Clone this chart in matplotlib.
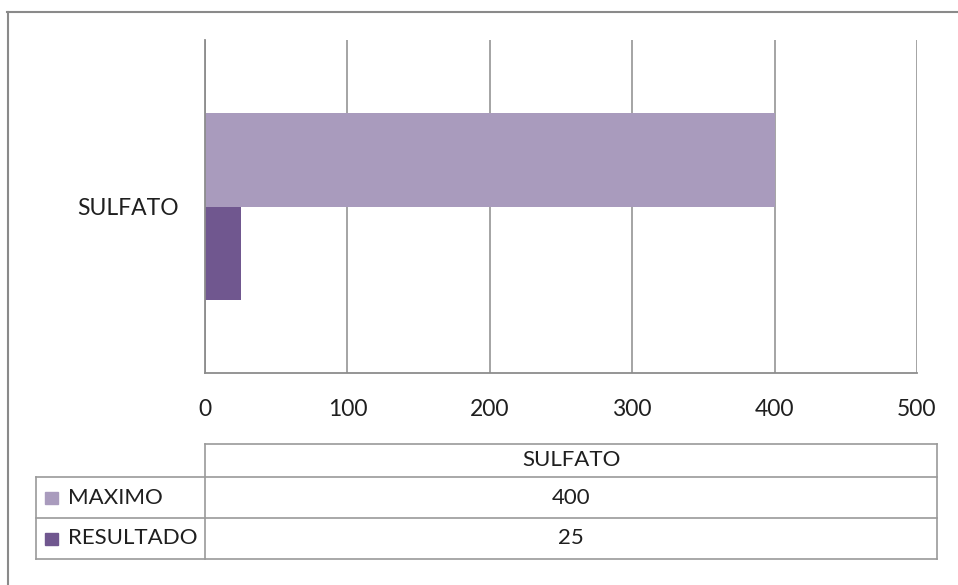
import matplotlib.pyplot as plt
import numpy as np
from matplotlib.lines import Line2D
from matplotlib.patches import Rectangle

categories = ['SULFATO']
series_names = ['MAXIMO', 'RESULTADO']
maximo = [400]
resultado = [25]
x_ticks = [0, 100, 200, 300, 400, 500]

colors = ['#A99BBD', '#70578F']
grid_color = '#8C8C8C'
text_color = '#1F1F1F'

W, H = 958, 585
plt.rcParams['font.family'] = ['Lato', 'DejaVu Sans']

fig = plt.figure(figsize=(W / 100, H / 100), dpi=100)


def fx(px):
    return px / W


def fy(py):
    return 1 - py / H


def hline(x0, x1, y, color='#9A9A9A', lw=1.2):
    fig.add_artist(Line2D([fx(x0), fx(x1)], [fy(y), fy(y)], color=color, lw=lw))


def vline(x, y0, y1, color='#9A9A9A', lw=1.2):
    fig.add_artist(Line2D([fx(x), fx(x)], [fy(y0), fy(y1)], color=color, lw=lw))


# chart frame (runs off the right and bottom edges)
hline(7, W, 12, color='#8A8A8A', lw=1.5)
vline(7.5, 12, H, color='#8A8A8A', lw=1.5)

ax = fig.add_axes([fx(205), fy(373), fx(917) - fx(205), fy(40) - fy(373)])

y = np.arange(len(categories))
h = 0.28
ax.barh(y + h / 2, maximo, height=h, color=colors[0], zorder=3)
ax.barh(y - h / 2, resultado, height=h, color=colors[1], zorder=3)

ax.set_xlim(0, 500)
ax.set_ylim(-0.5, 0.5)
ax.set_xticks(x_ticks)
ax.set_xticklabels([str(t) for t in x_ticks], fontsize=16.5, color=text_color)
ax.set_yticks(y)
ax.set_yticklabels(categories, fontsize=16.5, color=text_color)
ax.tick_params(axis='x', length=0, pad=19)
ax.tick_params(axis='y', length=0, pad=19)
ax.grid(axis='x', color=grid_color, lw=1.1, zorder=0)
for side in ['top', 'right']:
    ax.spines[side].set_visible(False)
for side in ['left', 'bottom']:
    ax.spines[side].set_color(grid_color)
    ax.spines[side].set_linewidth(1.3)
    ax.spines[side].set_zorder(4)

# data table under the axis
tl, tm, tr = 36, 205, 937
rows_y = [444, 477, 518, 559]
hline(tm, tr, rows_y[0])
for ry in rows_y[1:]:
    hline(tl, tr, ry)
vline(tm, rows_y[0], rows_y[-1])
vline(tr, rows_y[0], rows_y[-1])
vline(tl, rows_y[1], rows_y[-1])

fig.text(fx((tm + tr) / 2), fy((rows_y[0] + rows_y[1]) / 2), categories[0],
         ha='center', va='center', fontsize=16, color=text_color)
for i, (name, vals) in enumerate(zip(series_names, [maximo, resultado])):
    cy = (rows_y[i + 1] + rows_y[i + 2]) / 2
    fig.add_artist(Rectangle((fx(45), fy(cy + 6)), fx(13), fy(cy - 6) - fy(cy + 6),
                             color=colors[i], transform=fig.transFigure))
    fig.text(fx(68), fy(cy), name, ha='left', va='center', fontsize=16, color=text_color)
    fig.text(fx((tm + tr) / 2), fy(cy), str(vals[0]), ha='center', va='center',
             fontsize=16, color=text_color)

fig.savefig('out.png', dpi=100)
